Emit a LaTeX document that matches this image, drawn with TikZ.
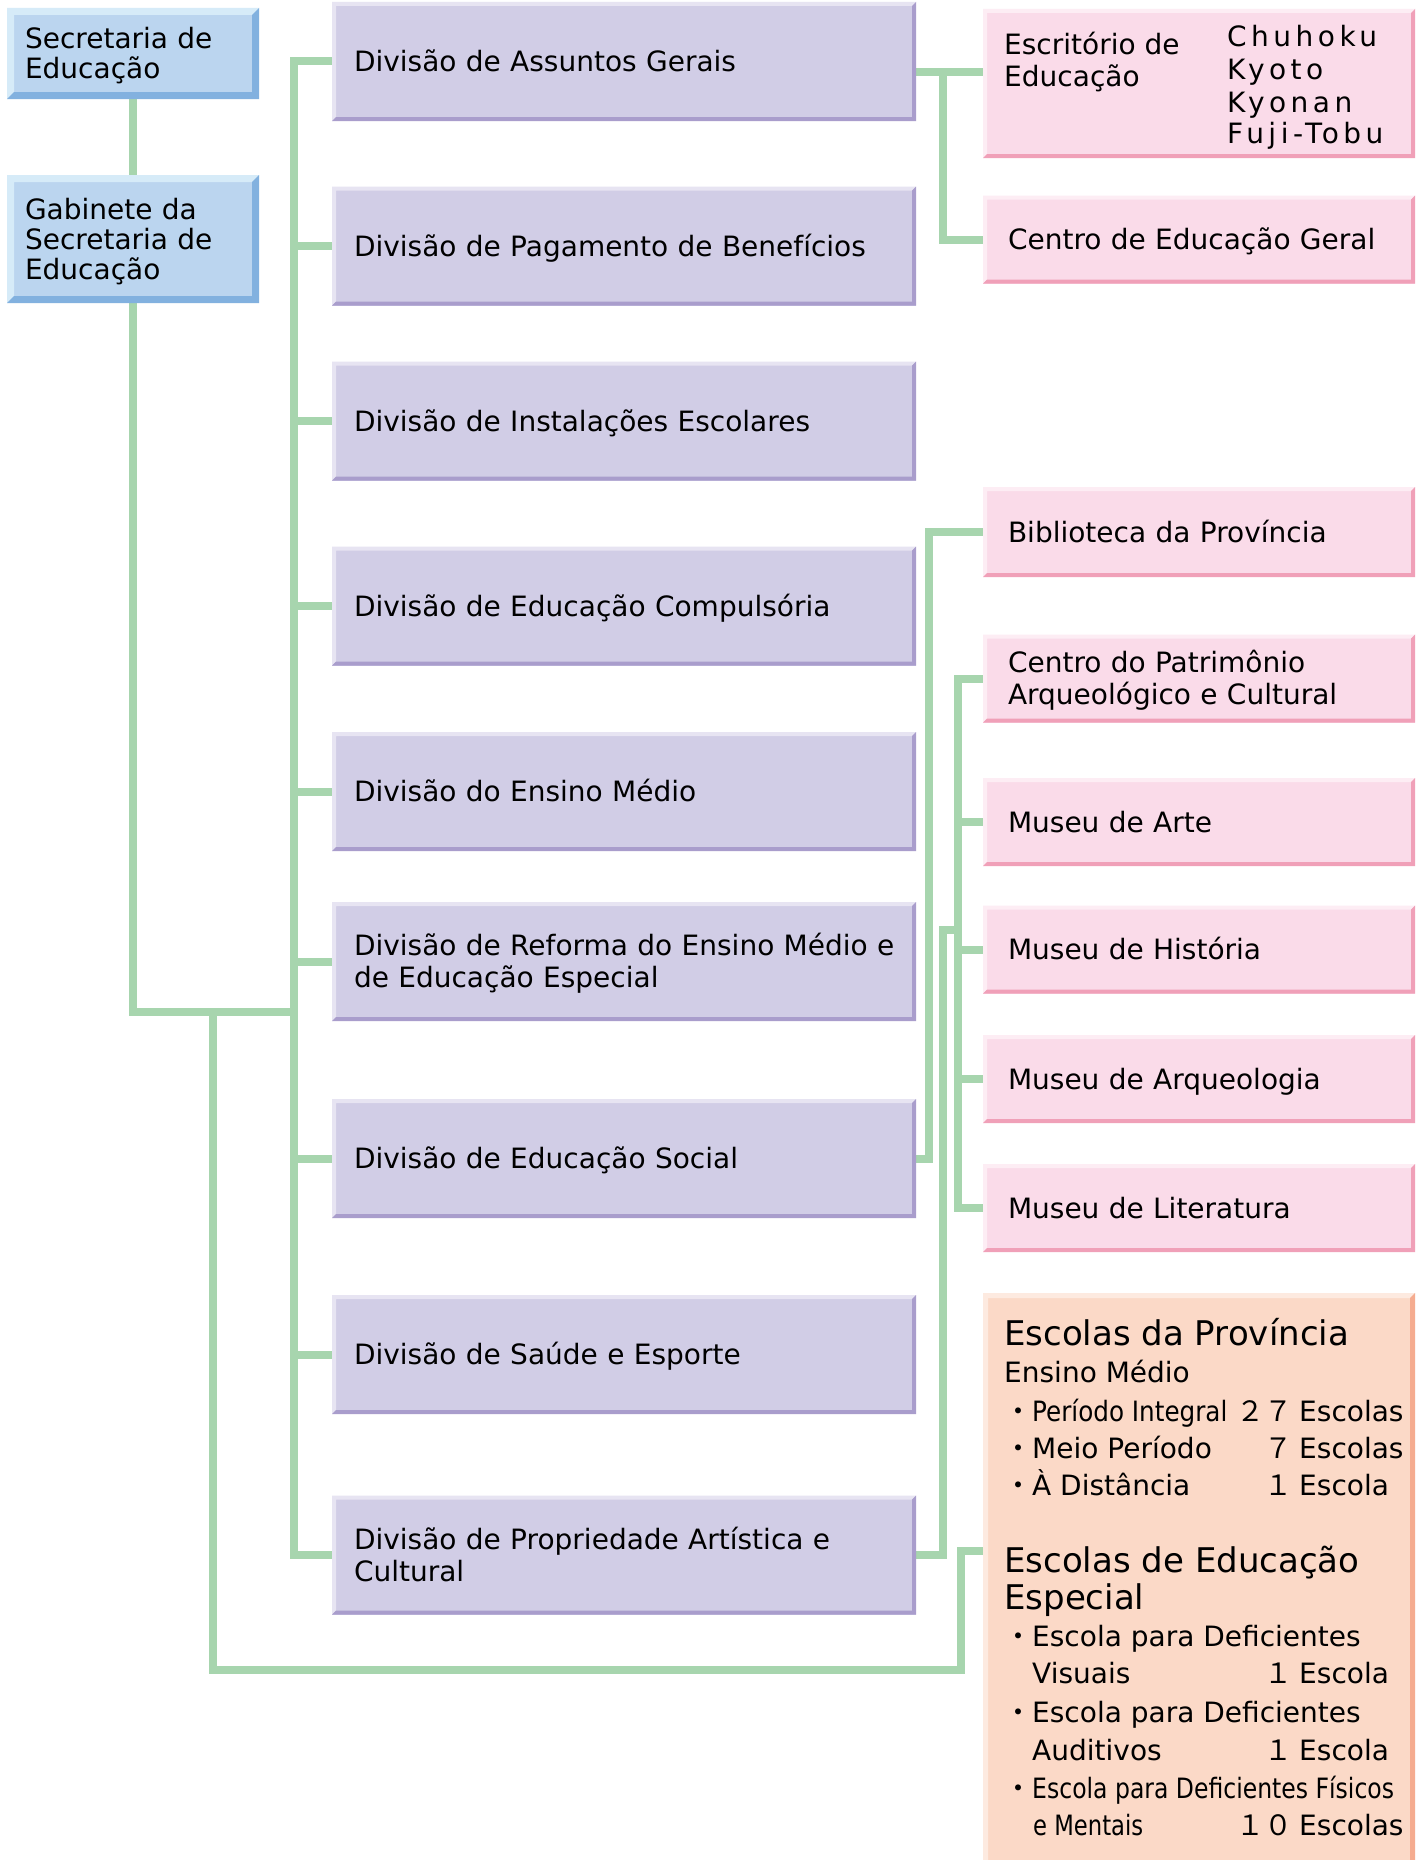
\documentclass[tikz,border=0pt]{standalone}
\usepackage{fontspec}
\setmainfont{DejaVu Sans}
\newfontfamily\cjk{Noto Sans CJK JP}
\newfontfamily\spacedfont{DejaVu Sans}[LetterSpace=16]
\usetikzlibrary{calc}
\pgfdeclarelayer{bg}
\pgfsetlayers{bg,main}
\definecolor{gline}{HTML}{A7D5AE}
\definecolor{bluef}{HTML}{BBD5EF}
\definecolor{bluel}{HTML}{D6EBF8}
\definecolor{blued}{HTML}{82B1DF}
\definecolor{purf}{HTML}{D1CDE6}
\definecolor{purl}{HTML}{E7E4F2}
\definecolor{purd}{HTML}{A99DCC}
\definecolor{pinkf}{HTML}{FADBE9}
\definecolor{pinkl}{HTML}{FDEDF4}
\definecolor{pinkd}{HTML}{F0A0B8}
\definecolor{oraf}{HTML}{FBD9C7}
\definecolor{oral}{HTML}{FDEAE0}
\definecolor{orad}{HTML}{F5AC90}
\tikzset{
  bev/.style n args={4}{fill=#1, path picture={
    \fill[#2] (path picture bounding box.south west) -- (path picture bounding box.north west)
      -- (path picture bounding box.north east) -- ([xshift=-#4,yshift=-#4]path picture bounding box.north east)
      -- ([xshift=#4,yshift=-#4]path picture bounding box.north west) -- ([xshift=#4,yshift=#4]path picture bounding box.south west) -- cycle;
    \fill[#3] (path picture bounding box.south west) -- (path picture bounding box.south east)
      -- (path picture bounding box.north east) -- ([xshift=-#4,yshift=-#4]path picture bounding box.north east)
      -- ([xshift=-#4,yshift=#4]path picture bounding box.south east) -- ([xshift=#4,yshift=#4]path picture bounding box.south west) -- cycle;
  }},
  boxbase/.style={rectangle, inner ysep=0pt, align=left, anchor=center,
    font=\fontsize{28}{32}\selectfont,
    execute at begin node={\rule{0pt}{27.4pt}},
    execute at end node={\rule[-7pt]{0pt}{7pt}}},
  bluebox/.style={boxbase, bev={bluef}{bluel}{blued}{7pt}, font=\fontsize{28}{30}\selectfont,
    minimum width=252pt, minimum height=91pt, text width=216pt, inner xsep=18pt},
  purpbox/.style={boxbase, bev={purf}{purl}{purd}{4pt},
    minimum width=584pt, minimum height=119pt, text width=540pt, inner xsep=22pt},
  pinkbox/.style={boxbase, bev={pinkf}{pinkl}{pinkd}{4pt},
    minimum width=432pt, minimum height=88pt, text width=382pt, inner xsep=25pt},
  orabox/.style={boxbase, bev={oraf}{oral}{orad}{5pt},
    minimum width=432pt, minimum height=573pt, text width=382pt, inner xsep=25pt},
  txt/.style={inner sep=0pt, anchor=base west, font=\fontsize{28}{32}\selectfont},
  big/.style={txt, font=\fontsize{34}{37}\selectfont},
  num/.style={inner sep=0pt, anchor=base east, font=\fontsize{28}{32}\cjk},
  conn/.style={draw=gline, line width=8pt, line join=miter, line cap=rect}
}
\begin{document}
\begin{tikzpicture}[x=1pt,y=-1pt]
\useasboundingbox (0,0) rectangle (1424,1860);
\begin{pgfonlayer}{bg}
\fill[white] (0,0) rectangle (1424,1860);
\end{pgfonlayer}

% left blue boxes
\node[bluebox] (sec) at (133,53.5) {Secretaria de\\Educação};
\node[bluebox, minimum height=128pt] (gab) at (133,239) {Gabinete da\\Secretaria de\\Educação};

% divisions
\node[purpbox] (d1) at (624,61.5) {Divisão de Assuntos Gerais};
\node[purpbox] (d2) at (624,246) {Divisão de Pagamento de Benefícios};
\node[purpbox] (d3) at (624,421) {Divisão de Instalações Escolares};
\node[purpbox] (d4) at (624,606) {Divisão de Educação Compulsória};
\node[purpbox] (d5) at (624,791.5) {Divisão do Ensino Médio};
\node[purpbox] (d6) at (624,961.5) {\mbox{Divisão de Reforma do Ensino Médio e}\\de Educação Especial};
\node[purpbox] (d7) at (624,1158.5) {Divisão de Educação Social};
\node[purpbox] (d8) at (624,1354.5) {Divisão de Saúde e Esporte};
\node[purpbox] (d9) at (624,1555) {Divisão de Propriedade Artística e\\Cultural};

% right boxes
\node[pinkbox, minimum height=149pt] (esc) at (1199,83.5) {};
\node[txt] (e1) at (1004,55) {Escritório de};
\node[txt] (e2) at (1004,86) {Educação};
\node[txt, font=\fontsize{28}{32}\spacedfont] (k1) at (1227,47) {Chuhoku};
\node[txt, font=\fontsize{28}{32}\spacedfont] (k2) at (1227,80) {Kyoto};
\node[txt, font=\fontsize{28}{32}\spacedfont] (k3) at (1227,112) {Kyonan};
\node[txt, font=\fontsize{28}{32}\spacedfont] (k4) at (1227,143) {Fuji-Tobu};
\node[pinkbox] (ceg) at (1199,239.5) {Centro de Educação Geral};
\node[pinkbox, minimum height=90pt] (bib) at (1199,532) {Biblioteca da Província};
\node[pinkbox] (cpat) at (1199,678.5) {Centro do Patrimônio\\Arqueológico e Cultural};
\node[pinkbox] (marte) at (1199,822) {Museu de Arte};
\node[pinkbox] (mhist) at (1199,949.5) {Museu de História};
\node[pinkbox] (marq) at (1199,1079) {Museu de Arqueologia};
\node[pinkbox] (mlit) at (1199,1208) {Museu de Literatura};

% schools
\node[orabox] (escolas) at (1199,1579.5) {};
\node[big] (o1) at (1004,1345) {Escolas da Província};
\node[txt] (o2) at (1004,1382) {Ensino Médio};
\node[txt] (o3) at (1004,1421) {{\cjk ・}\scalebox{0.88}[1]{Período Integral}};
\node[num] (n3) at (1293,1421) {２７};
\node[txt] (u3) at (1299,1421) {Escolas};
\node[txt] (o4) at (1004,1458) {{\cjk ・}Meio Período};
\node[num] (n4) at (1293,1458) {７};
\node[txt] (u4) at (1299,1458) {Escolas};
\node[txt] (o5) at (1004,1495) {{\cjk ・}À Distância};
\node[num] (n5) at (1293,1495) {１};
\node[txt] (u5) at (1299,1495) {Escola};
\node[big] (o6) at (1004,1572) {Escolas de Educação};
\node[big] (o7) at (1004,1609) {Especial};
\node[txt] (o8) at (1004,1646) {{\cjk ・}Escola para Deficientes};
\node[txt] (o9) at (1032,1683) {Visuais};
\node[num] (n9) at (1293,1683) {１};
\node[txt] (u9) at (1299,1683) {Escola};
\node[txt] (o10) at (1004,1722) {{\cjk ・}Escola para Deficientes};
\node[txt] (o11) at (1032,1760) {Auditivos};
\node[num] (n11) at (1293,1760) {１};
\node[txt] (u11) at (1299,1760) {Escola};
\node[txt] (o12) at (1004,1798) {{\cjk ・}\scalebox{0.84}[1]{Escola para Deficientes Físicos}};
\node[txt] (o13) at (1033,1835) {\scalebox{0.81}[1]{e Mentais}};
\node[num] (n13) at (1293,1835) {１０};
\node[txt] (u13) at (1299,1835) {Escolas};

% junction coordinates
\coordinate (J) at (294,1012);
\coordinate (t2) at (213,1012);
\coordinate (t2b) at (961,1670);
\coordinate (espc) at (983,1551);
\coordinate (r1) at (943,72);
\coordinate (r7) at (929,0);
\coordinate (mb) at (958,0);
\coordinate (r9) at (943,930);

\begin{pgfonlayer}{bg}
\draw[conn] (sec) -- (gab);
\draw[conn] (gab.south) |- (J);
\draw[conn] (d1.west) -| (J);
\draw[conn] (d9.west) -| (J);
\foreach \n in {d2,d3,d4,d5,d6,d7,d8} \draw[conn] (\n.west) -- (\n.west -| J);
\draw[conn] (t2) |- (t2b) |- (espc);
\draw[conn] (d1.east |- r1) -- (esc.west |- r1);
\draw[conn] (r1) |- (ceg.west);
\draw[conn] (d7.east) -| (r7 |- bib.west) -- (bib.west);
\draw[conn] (cpat.west) -- (cpat.west -| mb) -- (mlit.west -| mb) -- (mlit.west);
\foreach \n in {marte,mhist,marq} \draw[conn] (\n.west) -- (\n.west -| mb);
\draw[conn] (d9.east) -| (r9) -- (r9 -| mb);
\end{pgfonlayer}
\end{tikzpicture}
\end{document}
